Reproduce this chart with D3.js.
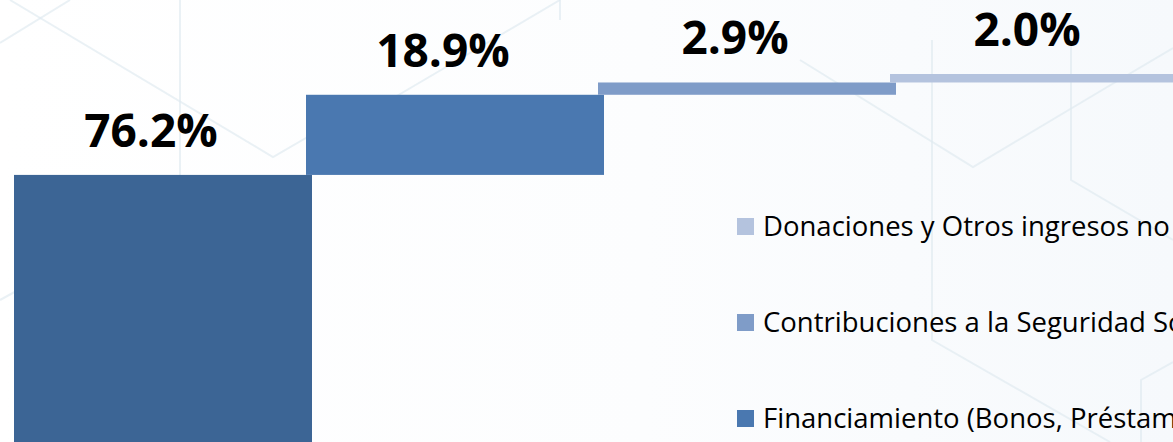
<!DOCTYPE html>
<html>
<head>
<meta charset="utf-8">
<script src="https://cdn.jsdelivr.net/npm/d3@7"></script>
<style>
  body { margin: 0; background: #fff; }
  svg { display: block; }
</style>
</head>
<body>
<div id="chart"></div>
<script>
// data
const categories = [
    'Ingresos Tributarios',
    'Financiamiento (Bonos, Préstamos)',
    'Contribuciones a la Seguridad Social',
    'Donaciones y Otros ingresos no tributarios'
];
const values = [76.2, 18.9, 2.9, 2.0];
const valueLabels = ['76.2%', '18.9%', '2.9%', '2.0%'];
const colors = ['#3c6595', '#4a78b0', '#7f9cc8', '#b4c3de'];

const width = 1173, height = 442;

const svg = d3.select('#chart').append('svg')
    .attr('width', width)
    .attr('height', height);

// soft background tint
const defs = svg.append('defs');
const grad = defs.append('linearGradient').attr('id', 'bg')
    .attr('x1', 0).attr('x2', 1).attr('y1', 0).attr('y2', 0);
grad.append('stop').attr('offset', '0%').attr('stop-color', '#ffffff');
grad.append('stop').attr('offset', '55%').attr('stop-color', '#fcfdfe');
grad.append('stop').attr('offset', '100%').attr('stop-color', '#f6f9fc');
svg.append('rect').attr('width', width).attr('height', height).attr('fill', 'url(#bg)');

// faint hexagon decoration
const deco = [
    [[10, 0], [273, 157], [330, 124]],
    [[180, -5], [180, 200]],
    [[0, 43], [70, 0]],
    [[0, 300], [40, 278]],
    [[390, 100], [560, 0]],
    [[800, 60], [973, 167], [1119, 80], [1173, 48]],
    [[932, 40], [932, 340], [1110, 442]],
    [[1071, 40], [1071, 180], [1173, 240]],
    [[1173, 362], [1141, 380], [1141, 442]],
    [[560, 0], [560, 20]]
];
svg.append('g').selectAll('path').data(deco).join('path')
    .attr('d', d3.line())
    .attr('fill', 'none')
    .attr('stroke', '#dfe9ef')
    .attr('stroke-width', 2)
    .attr('opacity', 0.65);

// scales
const x = d3.scaleBand().domain(categories).range([14, 14 + 292 * categories.length]).padding(0);
const y = d3.scaleLinear().domain([0, 100]).range([498, 74]);
const barW = x.bandwidth() + 6;

// waterfall steps
let acc = 0;
const steps = values.map((v, i) => {
    const s = { cat: categories[i], start: acc, end: acc + v, label: valueLabels[i], color: colors[i] };
    acc += v;
    return s;
});

const bodyG = svg.append('g').attr('class', 'body');

bodyG.selectAll('rect.bar').data(steps).join('rect')
    .attr('class', 'bar')
    .attr('x', d => x(d.cat))
    .attr('y', d => y(d.end))
    .attr('width', barW)
    .attr('height', d => y(d.start) - y(d.end))
    .attr('fill', d => d.color);

bodyG.selectAll('text.val').data(steps).join('text')
    .attr('class', 'val')
    .attr('x', d => x(d.cat) + barW / 2 - 12)
    .attr('y', d => y(d.end) - 28)
    .attr('text-anchor', 'middle')
    .attr('font-family', '"Open Sans", sans-serif')
    .attr('font-weight', 'bold')
    .attr('font-size', 46)
    .attr('fill', '#000')
    .text(d => d.label);

// legend (stacked, top to bottom = last to first)
const legend = svg.append('g').attr('transform', 'translate(737,218)');
const legendItems = steps.slice().reverse();
const row = legend.selectAll('g').data(legendItems).join('g')
    .attr('transform', (d, i) => 'translate(0,' + (i * 96) + ')');
row.append('rect')
    .attr('width', 17).attr('height', 17)
    .attr('fill', d => d.color);
row.append('text')
    .attr('x', 26)
    .attr('y', 18)
    .attr('font-family', '"Open Sans", sans-serif')
    .attr('font-size', 27.5)
    .attr('fill', '#000')
    .text(d => d.cat);
</script>
</body>
</html>
